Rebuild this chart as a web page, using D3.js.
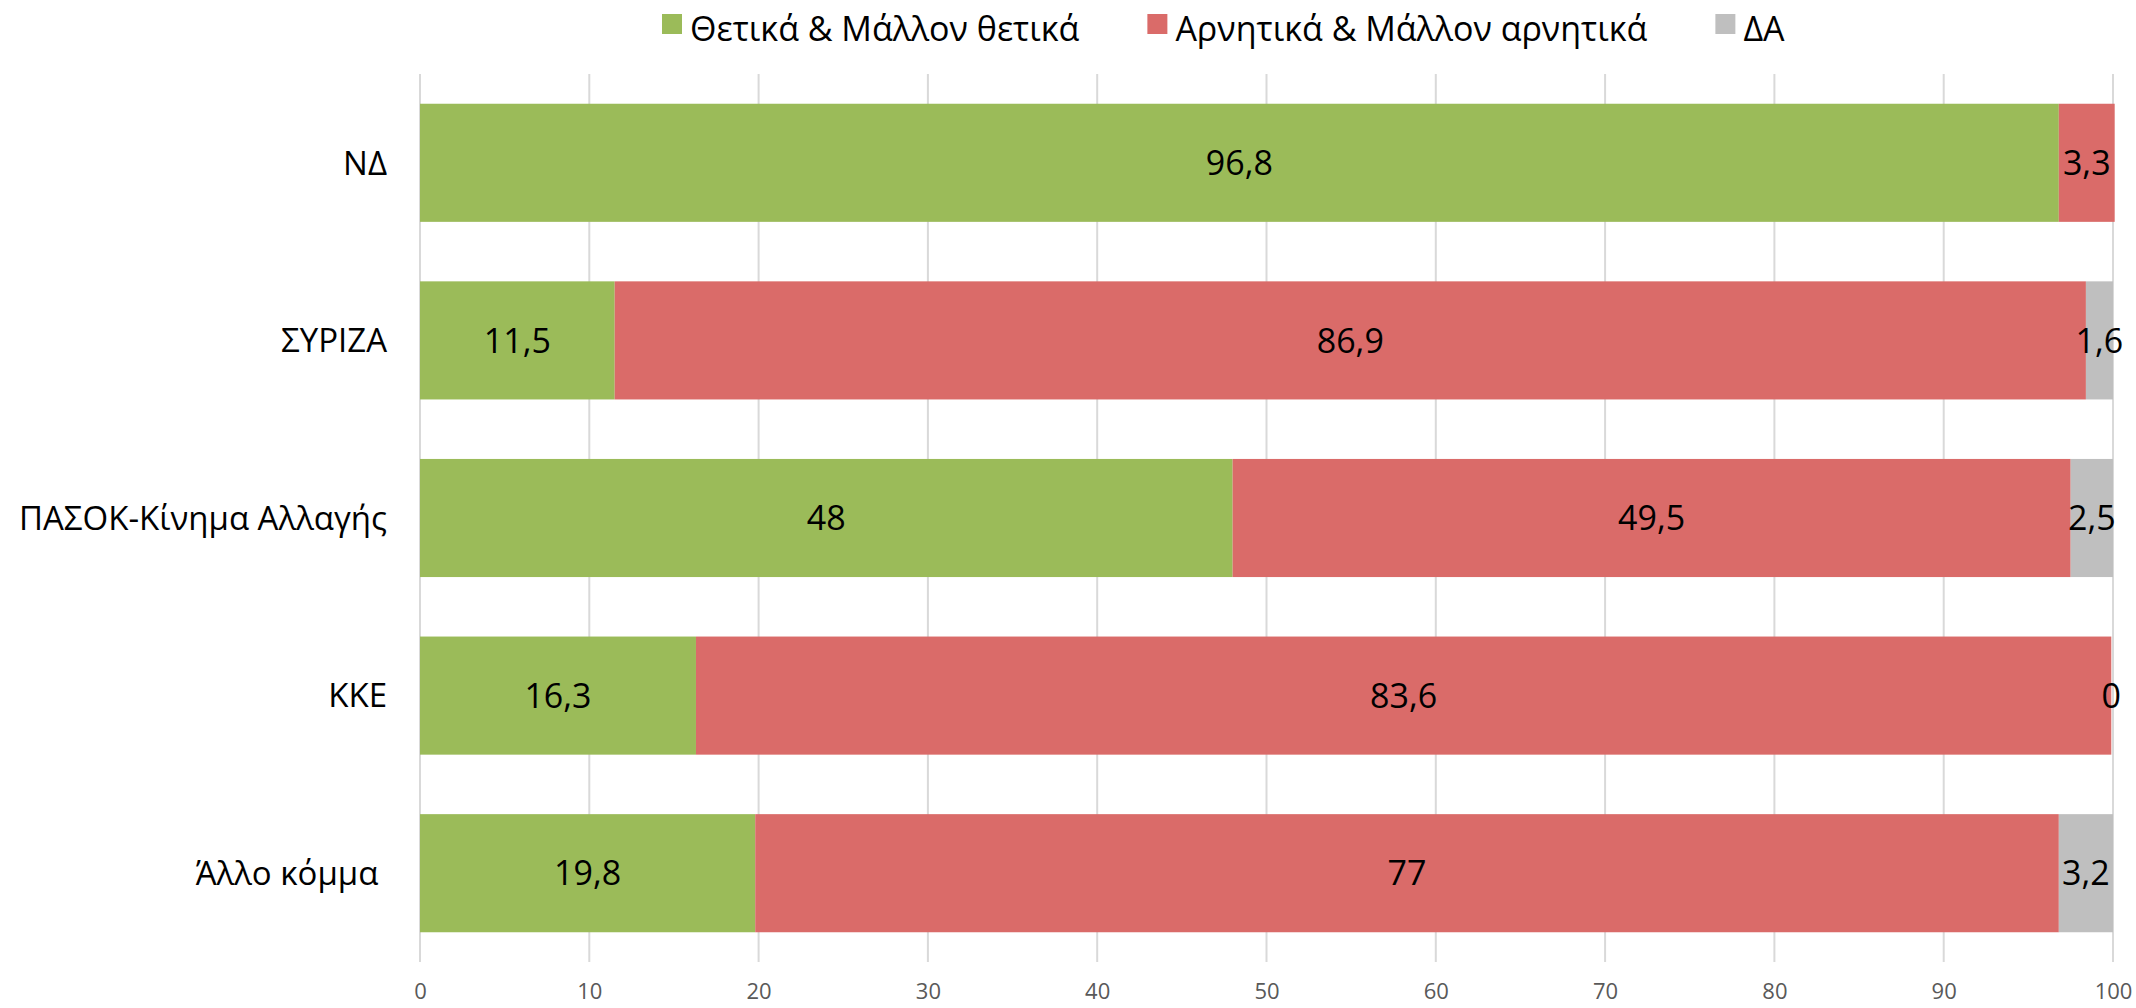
<!DOCTYPE html>
<html>
<head>
<meta charset="utf-8">
<script src="https://cdn.jsdelivr.net/npm/d3@7"></script>
<style>
  body { margin: 0; background: #fff; }
  text { font-family: "Open Sans", "Noto Sans", sans-serif; }
</style>
</head>
<body>
<svg width="2136" height="1008"></svg>
<script>
const categories = ["ΝΔ", "ΣΥΡΙΖΑ", "ΠΑΣΟΚ-Κίνημα Αλλαγής", "ΚΚΕ", "Άλλο κόμμα "];
const positive = [96.8, 11.5, 48, 16.3, 19.8];
const negative = [3.3, 86.9, 49.5, 83.6, 77];
const noAnswer = [null, 1.6, 2.5, 0, 3.2];
const seriesNames = ["Θετικά & Μάλλον θετικά", "Αρνητικά & Μάλλον αρνητικά", "ΔΑ"];
const seriesColours = ["#9BBB59", "#DA6B69", "#BFBFBF"];
const xTicks = [0, 10, 20, 30, 40, 50, 60, 70, 80, 90, 100];

const svg = d3.select("svg");
const margin = { top: 74, right: 23, bottom: 46, left: 420 };
const width = +svg.attr("width") - margin.left - margin.right;
const height = +svg.attr("height") - margin.top - margin.bottom;

const x = d3.scaleLinear().domain([0, 100]).range([0, width]);
const y = d3.scaleBand().domain(categories).range([0, height]).paddingInner(0.335).paddingOuter(0.1675);

const g = svg.append("g").attr("transform", `translate(${margin.left},${margin.top})`);

// gridlines
g.append("g")
    .selectAll("line")
    .data(xTicks)
    .join("line")
    .attr("x1", d => x(d)).attr("x2", d => x(d))
    .attr("y1", 0).attr("y2", height)
    .attr("stroke", "#D9D9D9")
    .attr("stroke-width", 2);

// stack rows
const rows = categories.map((c, i) => ({ cat: c, vals: [positive[i], negative[i], noAnswer[i]] }));
const segs = [];
rows.forEach(r => {
    let acc = 0;
    r.vals.forEach((v, k) => {
        if (v === null) return;
        segs.push({ cat: r.cat, k, v, x0: acc, x1: acc + v });
        acc += v;
    });
});

g.append("g")
    .selectAll("rect")
    .data(segs)
    .join("rect")
    .attr("x", d => x(d.x0))
    .attr("y", d => y(d.cat))
    .attr("width", d => x(d.x1) - x(d.x0))
    .attr("height", y.bandwidth())
    .attr("fill", d => seriesColours[d.k]);

// value labels
g.append("g")
    .selectAll("text")
    .data(segs)
    .join("text")
    .attr("x", d => x((d.x0 + d.x1) / 2))
    .attr("y", d => y(d.cat) + y.bandwidth() / 2)
    .attr("dy", "0.36em")
    .attr("text-anchor", "middle")
    .attr("font-size", 34)
    .attr("fill", "#000")
    .text(d => String(d.v).replace(".", ","));

// category labels
g.append("g")
    .selectAll("text")
    .data(categories)
    .join("text")
    .attr("x", -33)
    .attr("y", d => y(d) + y.bandwidth() / 2)
    .attr("dy", "0.36em")
    .attr("text-anchor", "end")
    .attr("font-size", 33)
    .style("white-space", "pre")
    .attr("fill", "#000")
    .text(d => d);

// x axis labels
const xAxis = d3.axisBottom(x).tickValues(xTicks).tickSize(0).tickPadding(21);
const ax = g.append("g").attr("transform", `translate(0,${height})`).call(xAxis);
ax.select(".domain").remove();
ax.selectAll("text")
    .attr("font-size", 22)
    .attr("fill", "#595959")
    .style("font-family", "'Open Sans', 'Noto Sans', sans-serif");

// legend
const legend = svg.append("g").attr("transform", "translate(662,0)");
let lx = 0;
seriesNames.forEach((name, i) => {
    const item = legend.append("g").attr("transform", `translate(${lx},0)`);
    item.append("rect")
        .attr("x", 0).attr("y", 14)
        .attr("width", 20).attr("height", 20)
        .attr("fill", seriesColours[i]);
    const t = item.append("text")
        .attr("x", 28).attr("y", 41)
        .attr("font-size", 34)
        .attr("fill", "#000")
        .text(name);
    lx += 28 + t.node().getComputedTextLength() + 68;
});
</script>
</body>
</html>
